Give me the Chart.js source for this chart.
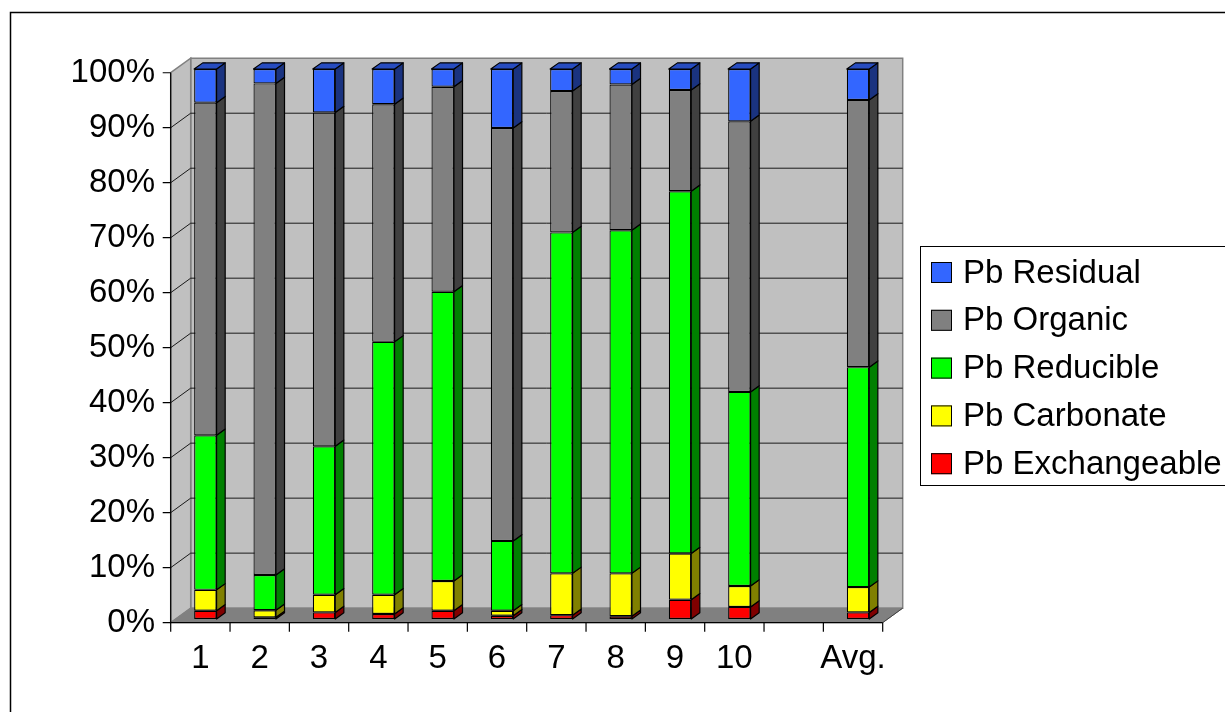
<!DOCTYPE html>
<html>
<head>
<meta charset="utf-8">
<script src="https://cdn.jsdelivr.net/npm/chart.js@4.4.1/dist/chart.umd.min.js"></script>
<style>
  html, body { margin: 0; padding: 0; background: #fff; }
  canvas { display: block; }
</style>
</head>
<body>
<canvas id="chart" width="1225" height="712"></canvas>
<script>
// Lead fractions per sample (percent of total Pb)
const categories   = ['1', '2', '3', '4', '5', '6', '7', '8', '9', '10', '', 'Avg.'];
const exchangeable = [1.5, 0.3, 1.2, 0.9, 1.5, 0.6, 0.7, 0.5, 3.5, 2.2, null, 1.2];
const carbonate    = [3.8, 1.3, 3.2, 3.5, 5.4, 0.9, 7.6, 7.8, 8.4, 3.8, null, 4.6];
const reducible    = [28.1, 6.4, 27.0, 46.0, 52.6, 12.7, 62.0, 62.4, 65.9, 35.3, null, 40.0];
const organic      = [60.5, 89.4, 60.7, 43.2, 37.3, 75.1, 25.7, 26.5, 18.4, 49.2, null, 48.6];
const residual     = [6.1, 2.6, 7.9, 6.4, 3.2, 10.7, 4.0, 2.8, 3.8, 9.5, null, 5.6];
const yTicks       = [0, 10, 20, 30, 40, 50, 60, 70, 80, 90, 100];

const FONT = "'Liberation Sans', Arial, Helvetica, sans-serif";

// Oblique 3D geometry: full depth of the plot box and where the bars sit in it
const DEPTH = { x: 20, y: -14.5 };
const BAR_FRONT = 0.25;   // bars' front faces lie this far behind the front plane
const BAR_DEPTH = 0.43;   // depth of each bar relative to the box

const series = [
  { label: 'Pb Exchangeable', data: exchangeable, front: '#FF0000', side: '#800000', top: '#C00000' },
  { label: 'Pb Carbonate',    data: carbonate,    front: '#FFFF00', side: '#808000', top: '#C0C000' },
  { label: 'Pb Reducible',    data: reducible,    front: '#00FF00', side: '#008000', top: '#00C000' },
  { label: 'Pb Organic',      data: organic,      front: '#808080', side: '#404040', top: '#606060' },
  { label: 'Pb Residual',     data: residual,     front: '#3366FF', side: '#1A3380', top: '#274CC0' }
];

function poly(ctx, pts, fill, stroke, lw) {
  ctx.beginPath();
  ctx.moveTo(pts[0][0], pts[0][1]);
  for (let i = 1; i < pts.length; i++) ctx.lineTo(pts[i][0], pts[i][1]);
  ctx.closePath();
  if (fill) { ctx.fillStyle = fill; ctx.fill(); }
  if (stroke) { ctx.strokeStyle = stroke; ctx.lineWidth = lw || 1; ctx.stroke(); }
}

function planes(chart) {
  const xs = chart.scales.x, ys = chart.scales.y;
  const fdx = -BAR_FRONT * DEPTH.x, fdy = -BAR_FRONT * DEPTH.y;
  const f = {
    x0: xs.left + fdx, x1: xs.right + fdx,
    yv: v => ys.getPixelForValue(v) + fdy
  };
  return { f, xs, ys };
}

const box3d = {
  id: 'box3d',
  beforeDatasetsDraw(chart) {
    const ctx = chart.ctx;
    const { f } = planes(chart);
    const dx = DEPTH.x, dy = DEPTH.y;
    const fyb = f.yv(0), fyt = f.yv(100);
    ctx.save();
    // back wall
    poly(ctx, [[f.x0 + dx, fyt + dy], [f.x1 + dx, fyt + dy], [f.x1 + dx, fyb + dy], [f.x0 + dx, fyb + dy]], '#C0C0C0', '#808080', 1.5);
    // side wall
    poly(ctx, [[f.x0, fyt], [f.x0 + dx, fyt + dy], [f.x0 + dx, fyb + dy], [f.x0, fyb]], '#C0C0C0', '#808080', 1.5);
    // gridlines on both walls
    ctx.strokeStyle = '#1a1a1a';
    ctx.lineWidth = 1;
    yTicks.forEach(v => {
      if (v === 0 || v === 100) return;
      const y = f.yv(v);
      ctx.beginPath();
      ctx.moveTo(f.x0, y);
      ctx.lineTo(f.x0 + dx, y + dy);
      ctx.lineTo(f.x1 + dx, y + dy);
      ctx.stroke();
    });
    // floor
    poly(ctx, [[f.x0, fyb], [f.x0 + dx, fyb + dy], [f.x1 + dx, fyb + dy], [f.x1, fyb]], '#808080', '#808080', 1);
    ctx.beginPath();
    ctx.moveTo(f.x1, fyb);
    ctx.lineTo(f.x1 + dx, fyb + dy);
    ctx.strokeStyle = '#404040';
    ctx.stroke();
    ctx.restore();
  },
  afterDatasetsDraw(chart) {
    const ctx = chart.ctx;
    const { f, xs } = planes(chart);
    const bdx = BAR_DEPTH * DEPTH.x, bdy = BAR_DEPTH * DEPTH.y;
    ctx.save();
    ctx.lineJoin = 'round';
    const topIdx = {};
    chart.data.datasets.forEach((ds, di) => {
      ds.data.forEach((v, i) => { if (v != null) topIdx[i] = di; });
    });
    chart.data.datasets.forEach((ds, di) => {
      const meta = chart.getDatasetMeta(di);
      meta.data.forEach((el, i) => {
        if (ds.data[i] == null) return;
        const p = el.getProps(['x', 'y', 'base', 'width'], true);
        const l = p.x - p.width / 2, r = p.x + p.width / 2;
        const t = Math.min(p.y, p.base), b = Math.max(p.y, p.base);
        poly(ctx, [[r, t], [r + bdx, t + bdy], [r + bdx, b + bdy], [r, b]], ds.sideColor, '#000', 1.2);
        if (topIdx[i] === di) {
          poly(ctx, [[l, t], [l + bdx, t + bdy], [r + bdx, t + bdy], [r, t]], ds.topColor, '#000', 1.2);
        }
      });
    });
    // front axes with tick marks
    const fyb = f.yv(0), fyt = f.yv(100);
    ctx.strokeStyle = '#000';
    ctx.lineWidth = 1.2;
    ctx.beginPath();
    ctx.moveTo(f.x0, fyt); ctx.lineTo(f.x0, fyb); ctx.lineTo(f.x1, fyb);
    yTicks.forEach(v => { const y = f.yv(v); ctx.moveTo(f.x0 - 8, y); ctx.lineTo(f.x0, y); });
    const n = categories.length, step = (f.x1 - f.x0) / n;
    for (let i = 0; i <= n; i++) { const x = f.x0 + i * step; ctx.moveTo(x, fyb); ctx.lineTo(x, fyb + 9); }
    ctx.stroke();
    ctx.restore();
  },
  afterDraw(chart) {
    const ctx = chart.ctx;
    ctx.save();
    // legend
    ctx.strokeStyle = '#000';
    ctx.lineWidth = 1;
    ctx.strokeRect(920.5, 246.5, 400, 239);
    ctx.font = '33px ' + FONT;
    ctx.textBaseline = 'middle';
    ctx.textAlign = 'left';
    const items = chart.data.datasets.slice().reverse();
    items.forEach((ds, k) => {
      const cy = 272.5 + k * 47.8;
      ctx.fillStyle = ds.backgroundColor;
      ctx.fillRect(931, cy - 10.5, 21, 21);
      ctx.strokeStyle = '#000';
      ctx.strokeRect(931.5, cy - 10, 20, 20);
      ctx.fillStyle = '#000';
      ctx.fillText(ds.label, 963, cy + 1);
    });
    // outer frame
    ctx.lineWidth = 1.5;
    ctx.strokeRect(10.5, 12.5, 1300, 800);
    ctx.restore();
  }
};

new Chart(document.getElementById('chart'), {
  type: 'bar',
  data: {
    labels: categories,
    datasets: series.map(s => ({
      label: s.label,
      data: s.data,
      backgroundColor: s.front,
      sideColor: s.side,
      topColor: s.top,
      borderColor: '#000',
      borderWidth: 1.2,
      borderSkipped: false,
      barPercentage: 0.378,
      categoryPercentage: 1
    }))
  },
  options: {
    responsive: false,
    animation: false,
    devicePixelRatio: 1,
    layout: { padding: { top: 69.1, right: 337.3, left: 0, bottom: 0 } },
    plugins: { legend: { display: false }, tooltip: { enabled: false } },
    scales: {
      x: {
        stacked: true,
        grid: { display: false, drawTicks: false },
        border: { display: false },
        afterFit: s => { s.height = 93; },
        ticks: {
          font: { family: FONT, size: 33 },
          color: '#000',
          padding: 20.6,
          labelOffset: -BAR_FRONT * DEPTH.x,
          maxRotation: 0,
          autoSkip: false
        }
      },
      y: {
        stacked: true,
        min: 0,
        max: 100,
        grid: { display: false, drawTicks: false },
        border: { display: false },
        afterFit: s => { s.width = 175.7; },
        afterBuildTicks: s => { s.ticks = yTicks.map(v => ({ value: v })); },
        ticks: {
          font: { family: FONT, size: 33 },
          color: '#000',
          padding: 20.7,
          labelOffset: -BAR_FRONT * DEPTH.y,
          callback: v => v + '%'
        }
      }
    }
  },
  plugins: [box3d]
});
</script>
</body>
</html>
